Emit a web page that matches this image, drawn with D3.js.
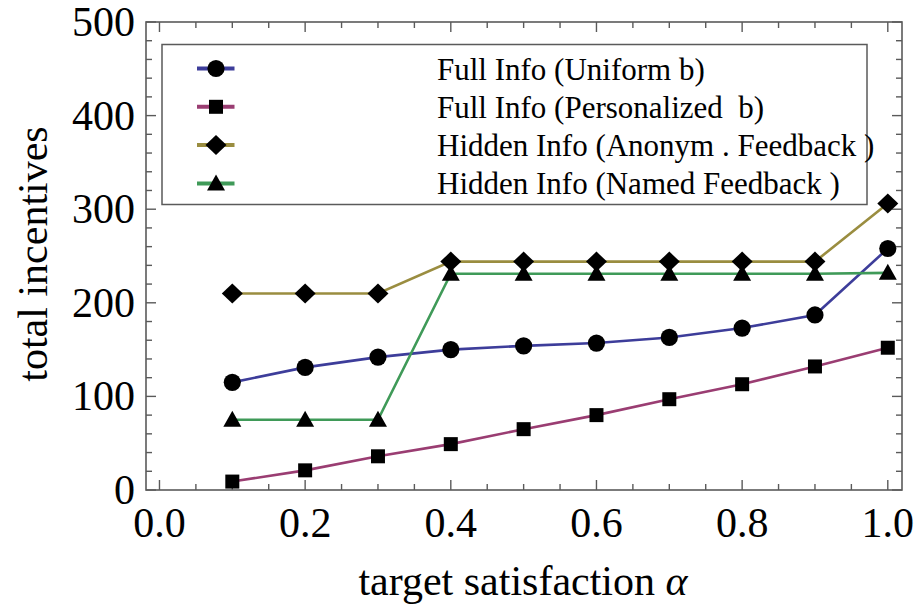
<!DOCTYPE html>
<html>
<head>
<meta charset="utf-8">
<script src="https://cdn.jsdelivr.net/npm/d3@7"></script>
<style>
  body { margin: 0; background: #fff; }
  svg { display: block; font-family: "Liberation Serif", "Times New Roman", serif; }
</style>
</head>
<body>
<div class="vis-chart"></div>
<script>
const alphas = [0.1, 0.2, 0.3, 0.4, 0.5, 0.6, 0.7, 0.8, 0.9, 1.0];
const uniformB = [115, 131, 142, 150, 154, 157, 163, 173, 187, 258];
const personalizedB = [9, 21, 36, 49, 65, 80, 97, 113, 132, 152];
const anonymFeedback = [210, 210, 210, 244, 244, 244, 244, 244, 244, 306];
const namedFeedback = [75, 75, 75, 231, 231, 231, 231, 231, 231, 232];
const seriesNames = [
  "Full Info (Uniform b)",
  "Full Info (Personalized  b)",
  "Hidden Info (Anonym . Feedback )",
  "Hidden Info (Named Feedback )"
];
const xTicks = [0.0, 0.2, 0.4, 0.6, 0.8, 1.0];
const yTicks = [0, 100, 200, 300, 400, 500];

const W = 922, H = 610;
const margin = { top: 22, right: 20, bottom: 120, left: 146 };
const width = W - margin.left - margin.right;
const height = H - margin.top - margin.bottom;

const svg = d3.select(".vis-chart").append("svg")
  .attr("width", W).attr("height", H);
const g = svg.append("g")
  .attr("transform", "translate(" + margin.left + "," + margin.top + ")");

const x = d3.scaleLinear().domain([-0.0185, 1.0195]).range([0, width]);
const y = d3.scaleLinear().domain([0, 500]).range([height, 0]);

const series = [
  { name: seriesNames[0], values: uniformB, color: "#3d3d9a", shape: "circle" },
  { name: seriesNames[1], values: personalizedB, color: "#9a3d72", shape: "square" },
  { name: seriesNames[2], values: anonymFeedback, color: "#9a8d40", shape: "diamond" },
  { name: seriesNames[3], values: namedFeedback, color: "#3f9a58", shape: "triangle" }
];

const symbolPath = shape => {
  if (shape === "circle") return d3.symbol().type(d3.symbolCircle).size(Math.PI * 8.6 * 8.6)();
  if (shape === "square") return d3.symbol().type(d3.symbolSquare).size(14 * 14)();
  if (shape === "diamond") return "M0,-10L10.5,0L0,10L-10.5,0Z";
  return "M0,-9L9,7L-9,7Z";
};

// frame + ticks
const frameColor = "#5a5a5a";
const minorX = d3.range(0, 1.0001, 0.05);
const minorY = d3.range(0, 500.1, 20);

const tickG = g.append("g").attr("stroke", frameColor).attr("stroke-width", 1.4);
minorX.forEach(v => {
  const major = xTicks.some(t => Math.abs(t - v) < 1e-6);
  const len = major ? 10 : 6;
  tickG.append("line").attr("x1", x(v)).attr("x2", x(v)).attr("y1", height).attr("y2", height - len);
  tickG.append("line").attr("x1", x(v)).attr("x2", x(v)).attr("y1", 0).attr("y2", len);
});
minorY.forEach(v => {
  const major = yTicks.some(t => Math.abs(t - v) < 1e-6);
  const len = major ? 10 : 6;
  tickG.append("line").attr("x1", 0).attr("x2", len).attr("y1", y(v)).attr("y2", y(v));
  tickG.append("line").attr("x1", width).attr("x2", width - len).attr("y1", y(v)).attr("y2", y(v));
});

g.append("rect")
  .attr("x", 0).attr("y", 0).attr("width", width).attr("height", height)
  .attr("fill", "none").attr("stroke", frameColor).attr("stroke-width", 1.6);

// tick labels
g.selectAll(".xlab").data(xTicks).enter().append("text")
  .attr("x", d => x(d)).attr("y", height + 47)
  .attr("text-anchor", "middle").attr("font-size", 42).attr("fill", "#000")
  .text(d => d3.format(".1f")(d));

g.selectAll(".ylab").data(yTicks).enter().append("text")
  .attr("x", -11).attr("y", d => y(d) + 14)
  .attr("text-anchor", "end").attr("font-size", 42).attr("fill", "#000")
  .text(d => d);

// axis titles
const xt = svg.append("text")
  .attr("x", 523).attr("y", 595)
  .attr("text-anchor", "middle").attr("font-size", 42).attr("fill", "#000");
xt.append("tspan").text("target satisfaction ");
xt.append("tspan").attr("font-style", "italic").text("\u03b1");

svg.append("text")
  .attr("transform", "translate(47,254) rotate(-90)")
  .attr("text-anchor", "middle").attr("font-size", 42).attr("fill", "#000")
  .text("total incentives");

// lines
series.forEach(s => {
  g.append("path")
    .datum(alphas.map((a, i) => [a, s.values[i]]))
    .attr("fill", "none")
    .attr("stroke", s.color)
    .attr("stroke-width", 2.6)
    .attr("d", d3.line().x(d => x(d[0])).y(d => y(d[1])));
});

// markers
series.forEach(s => {
  g.selectAll(null).data(alphas.map((a, i) => [a, s.values[i]])).enter()
    .append("path")
    .attr("d", symbolPath(s.shape))
    .attr("transform", d => "translate(" + x(d[0]) + "," + y(d[1]) + ")")
    .attr("fill", "#000");
});

// legend
const legend = svg.append("g");
legend.append("rect")
  .attr("x", 162).attr("y", 44.5).attr("width", 705).attr("height", 160)
  .attr("fill", "#fff").attr("stroke", frameColor).attr("stroke-width", 1.5);

series.forEach((s, i) => {
  const ly = 68.5 + i * 38.3;
  legend.append("line")
    .attr("x1", 197).attr("x2", 234.5).attr("y1", ly).attr("y2", ly)
    .attr("stroke", s.color).attr("stroke-width", 4);
  legend.append("path")
    .attr("d", symbolPath(s.shape))
    .attr("transform", "translate(216," + ly + ")")
    .attr("fill", "#000");
  legend.append("text")
    .attr("x", 437).attr("y", ly + 11)
    .attr("font-size", 31).attr("fill", "#000")
    .style("white-space", "pre")
    .text(s.name);
});
</script>
</body>
</html>
